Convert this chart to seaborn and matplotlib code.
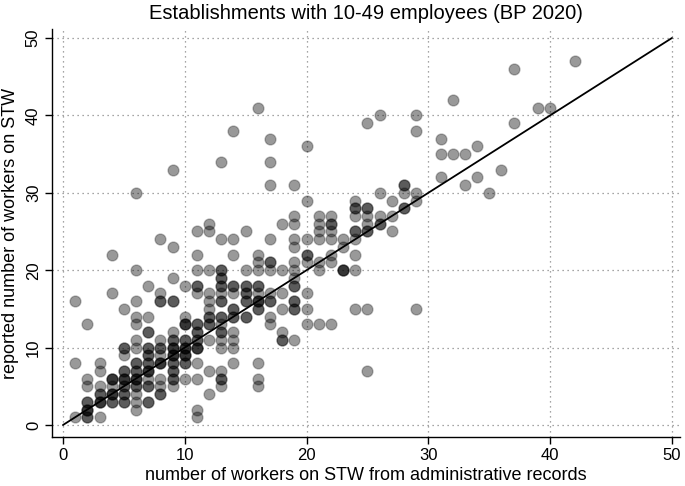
import numpy as np
import pandas as pd
import matplotlib
matplotlib.use("Agg")
import matplotlib.pyplot as plt
import seaborn as sns

# Points: admin-record workers (x), reported workers (y), and multiplicity (overlap count)
x_admin = [1, 1, 1,
           2, 2, 2, 2, 2, 2,
           3, 3, 3, 3, 3, 3,
           4, 4, 4, 4, 4, 4,
           5, 5, 5, 5, 5, 5, 5, 5,
           6, 6, 6, 6, 6, 6, 6, 6, 6, 6, 6, 6, 6, 6,
           7, 7, 7, 7, 7, 7, 7, 7, 7, 7,
           8, 8, 8, 8, 8, 8, 8, 8, 8, 8,
           9, 9, 9, 9, 9, 9, 9, 9, 9, 9, 9, 9,
           10, 10, 10, 10, 10, 10, 10, 10,
           11, 11, 11, 11, 11, 11, 11, 11, 11, 11, 11, 11, 11,
           12, 12, 12, 12, 12, 12, 12, 12, 12, 12, 12,
           13, 13, 13, 13, 13, 13, 13, 13, 13, 13, 13, 13, 13, 13, 13,
           14, 14, 14, 14, 14, 14, 14, 14, 14, 14, 14,
           15, 15, 15, 15, 15, 15,
           16, 16, 16, 16, 16, 16, 16, 16, 16, 16, 16,
           17, 17, 17, 17, 17, 17, 17, 17, 17, 17,
           18, 18, 18, 18, 18, 18,
           19, 19, 19, 19, 19, 19, 19, 19, 19, 19, 19, 19,
           20, 20, 20, 20, 20, 20, 20, 20,
           21, 21, 21, 21, 21, 21, 21,
           22, 22, 22, 22, 22, 22, 22,
           23, 23, 23,
           24, 24, 24, 24, 24, 24, 24, 24,
           25, 25, 25, 25, 25, 25, 25,
           26, 26, 26, 26,
           27, 27, 27,
           28, 28, 28,
           29, 29, 29, 29, 29,
           31, 31, 31,
           32, 32,
           33, 33,
           34, 34,
           35, 36, 37, 37, 39, 40, 42]
y_reported = [16, 8, 1,
              13, 6, 5, 3, 2, 1,
              8, 7, 5, 4, 3, 1,
              22, 17, 6, 5, 4, 3,
              15, 10, 9, 7, 6, 5, 4, 3,
              30, 20, 16, 14, 13, 11, 10, 8, 7, 6, 5, 4, 3, 2,
              18, 14, 12, 10, 9, 8, 7, 6, 5, 3,
              24, 17, 16, 11, 10, 9, 8, 6, 5, 4,
              33, 23, 19, 16, 12, 11, 10, 9, 8, 7, 6, 5,
              18, 14, 13, 11, 10, 9, 8, 6,
              25, 22, 20, 18, 17, 13, 12, 11, 10, 8, 6, 2, 1,
              26, 25, 20, 17, 16, 15, 14, 13, 11, 7, 4,
              34, 24, 20, 19, 18, 17, 16, 14, 13, 12, 11, 10, 7, 6, 5,
              38, 24, 22, 18, 17, 15, 14, 12, 11, 10, 8,
              25, 20, 18, 17, 16, 14,
              41, 22, 21, 20, 18, 17, 16, 15, 8, 6, 5,
              37, 34, 31, 24, 21, 20, 17, 16, 14, 13,
              26, 20, 17, 15, 12, 11,
              31, 27, 26, 24, 23, 21, 20, 19, 18, 16, 15, 11,
              36, 29, 24, 22, 21, 17, 15, 13,
              27, 26, 25, 24, 21, 20, 13,
              27, 26, 25, 24, 22, 21, 13,
              24, 23, 20,
              29, 28, 27, 25, 24, 22, 20, 15,
              39, 28, 27, 26, 25, 15, 7,
              40, 30, 27, 26,
              29, 27, 25,
              31, 30, 28,
              40, 38, 30, 29, 15,
              37, 35, 32,
              42, 35,
              35, 31,
              36, 32,
              30, 33, 46, 39, 41, 41, 47]
n_overlap = [1, 1, 1,
             1, 1, 1, 2, 3, 2,
             1, 1, 1, 2, 3, 1,
             1, 1, 3, 1, 3, 2,
             1, 2, 1, 2, 3, 2, 2, 2,
             1, 1, 1, 1, 1, 1, 1, 2, 2, 3, 2, 1, 1, 1,
             1, 1, 2, 2, 2, 2, 3, 1, 2, 2,
             1, 1, 2, 1, 2, 1, 3, 1, 1, 2,
             1, 1, 1, 2, 1, 2, 3, 3, 2, 2, 2, 1,
             1, 1, 3, 2, 3, 3, 2, 1,
             1, 1, 1, 2, 1, 2, 2, 2, 3, 1, 1, 1, 1,
             1, 1, 1, 1, 1, 1, 2, 2, 1, 1, 1,
             1, 1, 2, 2, 2, 1, 2, 2, 1, 2, 1, 1, 1, 2, 1,
             1, 1, 1, 2, 1, 2, 2, 1, 1, 1, 1,
             1, 1, 2, 2, 2, 2,
             1, 1, 1, 1, 2, 1, 3, 2, 1, 1, 1,
             1, 1, 1, 1, 2, 1, 1, 2, 1, 1,
             1, 1, 1, 1, 1, 2,
             1, 1, 1, 1, 1, 1, 1, 1, 2, 2, 2, 1,
             1, 1, 1, 2, 1, 1, 1, 1,
             1, 1, 1, 1, 1, 1, 1,
             1, 2, 1, 1, 1, 1, 1,
             1, 1, 3,
             1, 2, 1, 2, 1, 1, 1, 1,
             1, 2, 1, 1, 2, 1, 1,
             1, 1, 1, 2,
             1, 1, 1,
             2, 1, 2,
             1, 1, 1, 1, 1,
             1, 1, 1,
             1, 1,
             1, 1,
             1, 1,
             1, 1, 1, 1, 1, 1, 1]

line_x = [0, 50]
line_y = [0, 50]
ticks = [0, 10, 20, 30, 40, 50]

title = "Establishments with 10-49 employees (BP 2020)"
xlabel = "number of workers on STW from administrative records"
ylabel = "reported number of workers on STW"

df = pd.DataFrame({"x": x_admin, "y": y_reported, "n": n_overlap})
df = df.loc[df.index.repeat(df["n"])].reset_index(drop=True)

sns.set_theme(style="white")
plt.rcParams["font.family"] = ["Liberation Sans", "DejaVu Sans"]
plt.rcParams["text.color"] = "black"
plt.rcParams["axes.labelcolor"] = "black"
plt.rcParams["xtick.color"] = "black"
plt.rcParams["ytick.color"] = "black"

fig = plt.figure(figsize=(6.85, 4.86), dpi=100)
ax = fig.add_axes([52 / 685, 1 - 437 / 486, (680 - 52) / 685, (437 - 29) / 486])

sns.scatterplot(data=df, x="x", y="y", ax=ax, s=62,
                facecolor=(0, 0, 0, 0.4), edgecolor=(0, 0, 0, 0.25),
                linewidth=1.0, zorder=3, legend=False)
sns.lineplot(x=line_x, y=line_y, ax=ax, color="black", linewidth=1.3, zorder=4)

ax.set_xlim(-0.9, 50.66)
ax.set_ylim(-1.55, 51.16)
ax.set_xticks(ticks)
ax.set_yticks(ticks)
ax.set_xticklabels([str(t) for t in ticks], fontsize=12, color="black")
ax.set_yticklabels([str(t) for t in ticks], fontsize=12, rotation=90, va="center", color="black")
ax.grid(True, color="#888888", linestyle=(0, (1, 3)), linewidth=0.9, zorder=0)

for side in ["top", "right"]:
    ax.spines[side].set_visible(False)
for side in ["left", "bottom"]:
    ax.spines[side].set_color("black")
    ax.spines[side].set_linewidth(1.0)
ax.tick_params(axis="both", which="both", direction="out", length=5, width=1,
               color="black", bottom=True, left=True, pad=3)

ax.set_xlabel(xlabel, fontsize=13, labelpad=3, color="black")
ax.set_ylabel(ylabel, fontsize=13, labelpad=5, color="black")
ax.set_title(title, fontsize=14.5, pad=7, color="black")

fig.savefig("out.png", dpi=100)
